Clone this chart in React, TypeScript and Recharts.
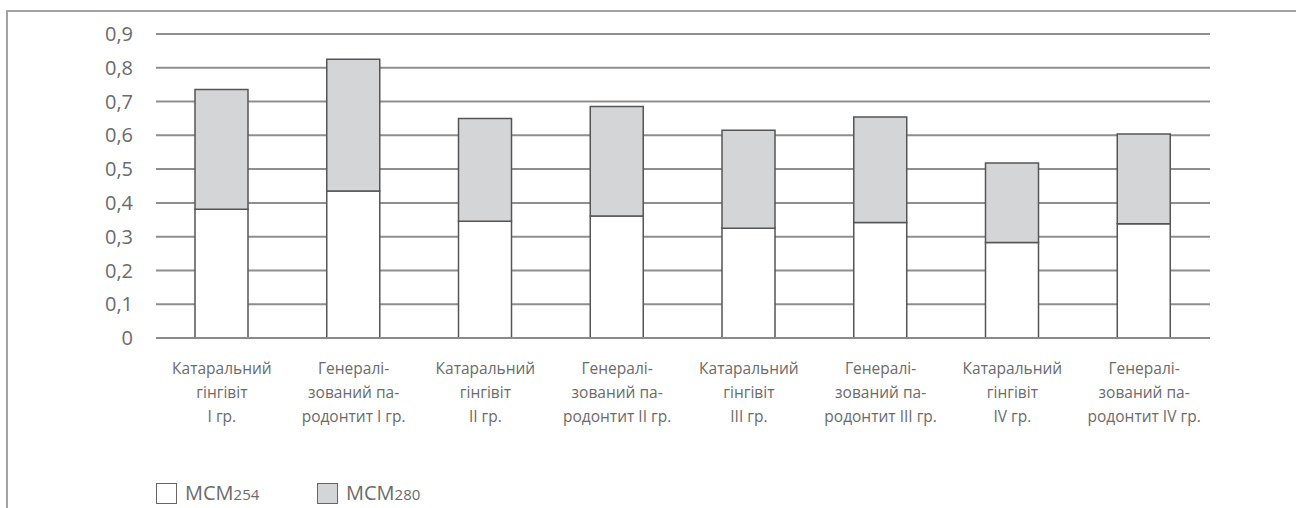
import { BarChart, Bar, XAxis, YAxis, CartesianGrid, Legend } from 'recharts';

const categories = [
  'Катаральний\nгінгівіт\nI гр.',
  'Генералі-\nзований па-\nродонтит I гр.',
  'Катаральний\nгінгівіт\nII гр.',
  'Генералі-\nзований па-\nродонтит II гр.',
  'Катаральний\nгінгівіт\nIII гр.',
  'Генералі-\nзований па-\nродонтит III гр.',
  'Катаральний\nгінгівіт\nIV гр.',
  'Генералі-\nзований па-\nродонтит IV гр.',
];

const mcm254 = [0.381, 0.435, 0.346, 0.361, 0.325, 0.342, 0.283, 0.338];
const mcm280 = [0.355, 0.39, 0.304, 0.324, 0.29, 0.312, 0.235, 0.266];

const yTicks = [0, 0.1, 0.2, 0.3, 0.4, 0.5, 0.6, 0.7, 0.8, 0.9];

const data = categories.map((name, i) => ({
  name,
  mcm254: mcm254[i],
  mcm280: mcm280[i],
}));

const textColor = '#6b6b6b';
const font = '"Open Sans", sans-serif';

function CategoryTick(props: any) {
  const { x, y, payload } = props;
  const lines = String(payload.value).split('\n');
  return (
    <text x={x} y={y} textAnchor="middle" fill={textColor} fontSize={15.5} fontFamily={font}>
      {lines.map((line, i) => (
        <tspan key={i} x={x} y={y + 36 + i * 24}>
          {line}
        </tspan>
      ))}
    </text>
  );
}

function LegendContent() {
  const items = [
    { label: '254', fill: '#ffffff' },
    { label: '280', fill: '#d4d5d7' },
  ];
  return (
    <div style={{ display: 'flex', fontFamily: font, color: textColor }}>
      {items.map((it, i) => (
        <div key={i} style={{ display: 'flex', alignItems: 'center', width: 161 }}>
          <div
            style={{
              width: 19,
              height: 19,
              border: '1.5px solid #666',
              background: it.fill,
              marginRight: 8,
            }}
          />
          <span style={{ fontSize: 20, lineHeight: '22px' }}>
            МСМ<span style={{ fontSize: 15 }}>{it.label}</span>
          </span>
        </div>
      ))}
    </div>
  );
}

export default function App() {
  return (
    <div style={{ position: 'fixed', left: 0, top: 0, right: 0, bottom: 0, overflow: 'hidden', background: '#fff' }}>
      <div
        style={{
          position: 'absolute',
          left: 6,
          top: 10,
          width: 1400,
          height: 600,
          borderLeft: '2px solid #a3a3a3',
          borderTop: '2px solid #a3a3a3',
        }}
      />
      <div style={{ position: 'absolute', left: 0, top: 0 }}>
        <BarChart
          width={1296}
          height={508}
          data={data}
          margin={{ top: 34, right: 86, bottom: 110, left: 96 }}
          barSize={53}
        >
          <CartesianGrid vertical={false} stroke="#8e8e8e" strokeWidth={2} />
          <XAxis
            dataKey="name"
            height={60}
            axisLine={{ stroke: '#8a8a8a', strokeWidth: 2 }}
            tickLine={false}
            tickSize={0}
            tickMargin={0}
            interval={0}
            tick={<CategoryTick />}
          />
          <YAxis
            width={60}
            domain={[0, 0.9]}
            ticks={yTicks}
            axisLine={false}
            tickLine={false}
            tickSize={0}
            tickMargin={23}
            tick={{ fill: textColor, fontSize: 20, fontFamily: font }}
            tickFormatter={(v: number) => (v === 0 ? '0' : v.toFixed(1).replace('.', ','))}
          />
          <Bar dataKey="mcm254" stackId="a" fill="#ffffff" stroke="#555" strokeWidth={1.5} isAnimationActive={false} />
          <Bar dataKey="mcm280" stackId="a" fill="#d4d5d7" stroke="#555" strokeWidth={1.5} isAnimationActive={false} />
          <Legend
            layout="vertical"
            align="center"
            verticalAlign="middle"
            content={<LegendContent />}
            wrapperStyle={{ left: 156, top: 482, width: 400, height: 24 }}
          />
        </BarChart>
      </div>
    </div>
  );
}
